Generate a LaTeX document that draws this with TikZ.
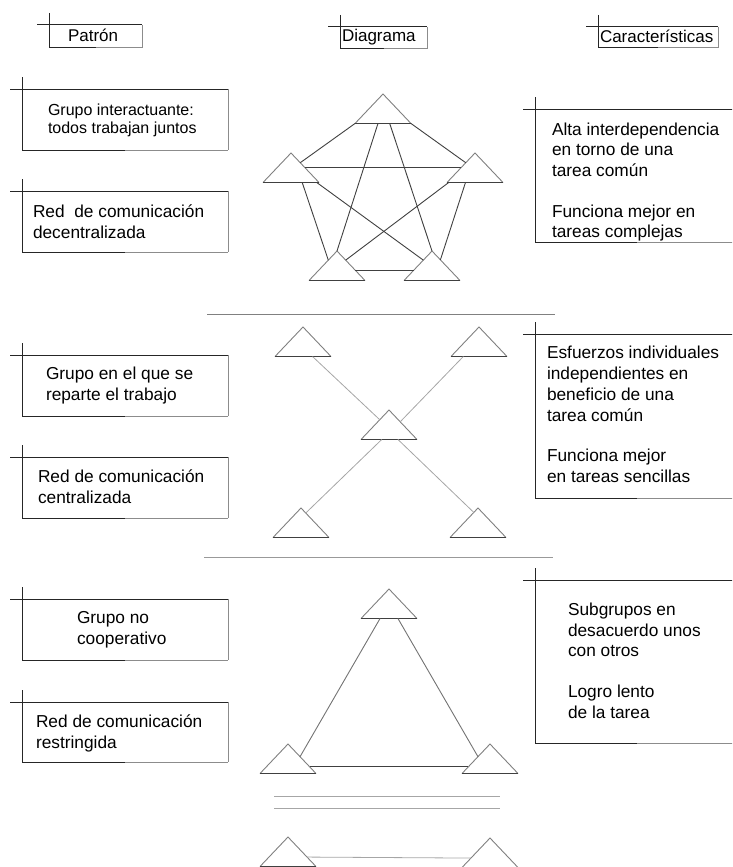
\documentclass[tikz,border=0pt]{standalone}
\usepackage{fontspec}
\setmainfont{Liberation Sans}
\usetikzlibrary{calc}

% A small triangle with its apex at (#2,#3); its corners are named #1-a, #1-l, #1-r
\newcommand\drawtri[3]{%
  \coordinate (#1-a) at (#2,#3);
  \coordinate (#1-l) at (#2-28,#3+29.5);
  \coordinate (#1-r) at (#2+28,#3+29.5);
  \draw[triside] (#1-l) -- (#1-a) -- (#1-r);
  \draw[tribase] (#1-l) -- (#1-r);
}

\begin{document}
\begin{tikzpicture}[x=1pt,y=-1pt,
  every node/.style={inner sep=0pt, outer sep=0pt},
  darkrule/.style={draw=black!85, line width=1pt},
  palerule/.style={draw=black!45, line width=1pt},
  frame/.style={anchor=north west, append after command={
      ([xshift=-12pt]\tikzlastnode.north west) edge[darkrule] (\tikzlastnode.north east)
      ([yshift=12pt]\tikzlastnode.north west) edge[darkrule] (\tikzlastnode.south west)
      (\tikzlastnode.north east) edge[palerule] (\tikzlastnode.south east)
      (\tikzlastnode.south west) edge[darkrule] (\tikzlastnode.south)
      (\tikzlastnode.south) edge[palerule] (\tikzlastnode.south east)}},
  % multi-line texts are placed by the baseline of their last line
  head/.style={anchor=base west, font=\fontsize{17}{20}\selectfont},
  txt/.style={anchor=base west, align=left, font=\fontsize{17.3}{21}\selectfont},
  smalltxt/.style={anchor=base west, align=left, font=\fontsize{16}{18.5}\selectfont},
  sidetxt/.style={anchor=base west, align=left, font=\fontsize{17.3}{20.5}\selectfont},
  triside/.style={draw=black!50, line width=0.9pt},
  tribase/.style={draw=black!75, line width=0.9pt},
  link/.style={draw=black!75, line width=0.9pt},
  faint/.style={draw=black!35, line width=0.8pt},
  midlink/.style={draw=black!55, line width=0.9pt},
  divider/.style={draw=black!50, line width=0.9pt},
]
\useasboundingbox (0,0) rectangle (732,867);
\clip (0,0) rectangle (732,867);

% ---------- column headings ----------
\node[frame, minimum width=93pt, minimum height=23pt] (hpat) at (49,25) {};
\node[head] (hpatt) at (68,42) {Patrón};
\node[frame, minimum width=87pt, minimum height=22pt] (hdia) at (340,27) {};
\node[head] (hdiat) at (342,42) {Diagrama};
\node[frame, minimum width=120pt, minimum height=21pt] (hcar) at (598,27) {};
\node[head] (hcart) at (600,43) {Características};

% ---------- pattern boxes ----------
\node[frame, minimum width=206pt, minimum height=61pt] (p1) at (22,89) {};
\node[smalltxt] (p1t) at (48,133.5) {Grupo interactuante:\\todos trabajan juntos};
\node[frame, minimum width=206pt, minimum height=61pt] (p2) at (22,191) {};
\node[txt] (p2t) at (33,238) {Red\ \ de comunicación\\decentralizada};

\node[frame, minimum width=206pt, minimum height=61pt] (p3) at (22,355) {};
\node[txt] (p3t) at (46,400) {Grupo en el que se\\reparte el trabajo};
\node[frame, minimum width=206pt, minimum height=61pt] (p4) at (22,457) {};
\node[txt] (p4t) at (38,503) {Red de comunicación\\centralizada};

\node[frame, minimum width=206pt, minimum height=61pt] (p5) at (22,599) {};
\node[txt] (p5t) at (77,644) {Grupo no\\cooperativo};
\node[frame, minimum width=206pt, minimum height=60pt] (p6) at (22,702) {};
\node[txt] (p6t) at (36,748) {Red de comunicación\\restringida};

% ---------- characteristics boxes ----------
\node[frame, minimum width=204pt, minimum height=133pt] (c1) at (535,109) {};
\node[sidetxt] (c1t) at (552,237.5) {Alta interdependencia\\en torno de una\\tarea común\\[20.5pt]Funciona mejor en\\tareas complejas};
\node[frame, minimum width=204pt, minimum height=164pt] (c2) at (535,334) {};
\node[sidetxt, font=\fontsize{17.3}{21}\selectfont] (c2t) at (547,482.5) {Esfuerzos individuales\\independientes en\\beneficio de una\\tarea común\\[19pt]Funciona mejor\\en tareas sencillas};
\node[frame, minimum width=204pt, minimum height=163pt] (c3) at (535,580) {};
\node[sidetxt] (c3t) at (568,718) {Subgrupos en\\desacuerdo unos\\con otros\\[20.5pt]Logro lento\\de la tarea};

% ---------- decentralized network: five members all linked ----------
\drawtri{T}{383}{94}
\drawtri{Lf}{291}{153}
\drawtri{Rt}{475}{153}
\drawtri{BL}{337}{251}
\drawtri{BR}{432}{251}
\draw[link] (T-l) -- ($(Lf-a)!0.33!(Lf-r)$);
\draw[link] (T-r) -- ($(Rt-a)!0.33!(Rt-l)$);
\draw[link] ($(Lf-a)!0.5!(Lf-r)$) -- ($(Rt-a)!0.5!(Rt-l)$);
\draw[link] ($(T-l)!0.41!(T-r)$) -- (BL-a);
\draw[link] ($(T-l)!0.62!(T-r)$) -- (BR-a);
\draw[link] ($(Lf-l)!0.96!(Lf-r)$) -- ($(BR-a)!0.31!(BR-l)$);
\draw[link] ($(Rt-l)!0.03!(Rt-r)$) -- ($(BL-a)!0.31!(BL-r)$);
\draw[link] ($(Lf-l)!0.7!(Lf-r)$) -- ($(BL-a)!0.31!(BL-l)$);
\draw[link] ($(Rt-l)!0.33!(Rt-r)$) -- ($(BR-a)!0.3!(BR-r)$);
\draw[link] ($(BL-a)!0.65!(BL-r)$) -- ($(BR-a)!0.65!(BR-l)$);

\draw[divider] (207,314) -- (555,314);

% ---------- centralized network: a hub and four members ----------
\drawtri{TL}{303}{327}
\drawtri{TR}{479}{327}
\drawtri{C}{389}{410}
\drawtri{XL}{301}{508}
\drawtri{XR}{478}{508}
\draw[faint] ($(TL-l)!0.67!(TL-r)$) -- ($(C-a)!0.33!(C-l)$);
\draw[faint] ($(TR-l)!0.22!(TR-r)$) -- ($(C-a)!0.4!(C-r)$);
\draw[faint] ($(C-l)!0.37!(C-r)$) -- ($(XL-a)!0.17!(XL-r)$);
\draw[faint] ($(C-l)!0.66!(C-r)$) -- ($(XR-a)!0.15!(XR-l)$);

\draw[divider, draw=black!40] (204,557) -- (553,557);

% ---------- restricted network ----------
\drawtri{P}{389}{589}
\drawtri{Q}{288}{744}
\drawtri{S}{490}{744}
\draw[midlink] ($(P-l)!0.34!(P-r)$) -- ($(Q-a)!0.43!(Q-r)$);
\draw[midlink] ($(P-l)!0.66!(P-r)$) -- ($(S-a)!0.43!(S-l)$);
\draw[link] ($(Q-a)!0.77!(Q-r)$) -- ($(S-a)!0.77!(S-l)$);

\draw[divider, draw=black!35] (274,796) -- (500,796);
\draw[divider, draw=black!35] (274,808) -- (500,808);

\drawtri{U}{288}{837}
\drawtri{V}{490}{838}
\draw[faint] ($(U-a)!0.68!(U-r)$) -- ($(V-a)!0.68!(V-l)$);
\end{tikzpicture}
\end{document}
